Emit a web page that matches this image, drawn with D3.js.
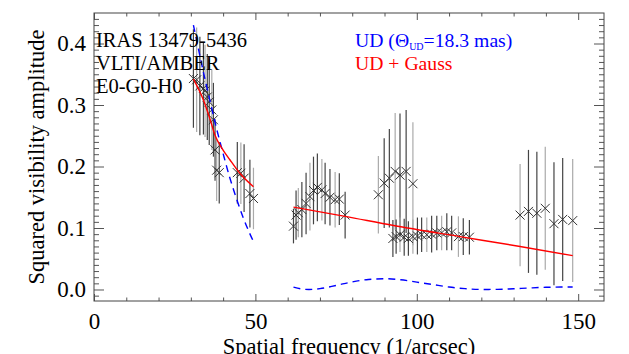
<!DOCTYPE html>
<html>
<head>
<meta charset="utf-8">
<script src="https://cdn.jsdelivr.net/npm/d3@7"></script>
<style>
  body { margin: 0; background: #fff; }
  svg, text { font-family: "Liberation Serif", "Times New Roman", serif; }
  .axis path.domain { display: none; }
  .axis line { stroke: #555; }
  .axis text { font-size: 23px; fill: #000; font-family: "Liberation Serif", serif; }
</style>
</head>
<body>
<div id="chart"></div>
<script>
"use strict";

// Measured V^2 points, grouped by baseline configuration
var freqA = [30.8, 31.8, 32.8, 33.9, 34.4, 35.1, 35.7, 36.5, 37.0, 37.5, 38.0, 38.8, 44.4, 45.5, 46.5, 48.3, 49.4];
var visA  = [0.343, 0.341, 0.331, 0.327, 0.323, 0.313, 0.305, 0.292, 0.276, 0.227, 0.194, 0.190, 0.190, 0.189, 0.181, 0.156, 0.148];
var errA  = [0.08, 0.085, 0.08, 0.075, 0.075, 0.07, 0.07, 0.065, 0.06, 0.05, 0.05, 0.05, 0.05, 0.05, 0.055, 0.055, 0.05];

var freqB = [61.8, 62.6, 63.3, 64.4, 65.7, 66.9, 68.0, 69.2, 70.6, 71.6, 73.1, 74.7, 76.0, 77.8];
var visB  = [0.103, 0.121, 0.125, 0.130, 0.140, 0.151, 0.161, 0.166, 0.162, 0.156, 0.150, 0.146, 0.147, 0.121];
var errB  = [0.028, 0.04, 0.04, 0.045, 0.05, 0.055, 0.055, 0.055, 0.05, 0.05, 0.046, 0.045, 0.042, 0.038];

var freqC = [88.1, 89.9, 91.5, 93.3, 94.8, 96.7, 98.8];
var visC  = [0.154, 0.173, 0.181, 0.192, 0.186, 0.192, 0.172];
var errC  = [0.063, 0.073, 0.08, 0.095, 0.1, 0.1, 0.1];

var freqD = [92.6, 93.6, 94.8, 96.1, 97.4, 98.8, 100.2, 101.5, 103.1, 104.6, 106.2, 107.7, 109.3, 110.8, 112.9, 114.4, 116.3];
var visD  = [0.083, 0.086, 0.089, 0.085, 0.083, 0.086, 0.087, 0.089, 0.089, 0.090, 0.092, 0.092, 0.094, 0.092, 0.086, 0.086, 0.085];
var errD  = [0.03, 0.028, 0.028, 0.03, 0.028, 0.028, 0.03, 0.028, 0.028, 0.03, 0.028, 0.028, 0.03, 0.028, 0.033, 0.03, 0.028];

var freqE = [132.0, 134.6, 137.2, 139.8, 142.5, 145.2, 148.3];
var visE  = [0.121, 0.127, 0.124, 0.132, 0.107, 0.114, 0.112];
var errE  = [0.083, 0.1, 0.1, 0.1, 0.1, 0.1, 0.1];

// Uniform disk model (18.3 mas)
var udFreq1 = [30.8, 32, 34, 36, 38, 40, 42, 44, 46, 48, 49.6];
var udVis1  = [0.430, 0.400, 0.351, 0.305, 0.261, 0.221, 0.183, 0.150, 0.120, 0.094, 0.076];
var udFreq2 = [61.8, 64, 66.6, 70, 75, 80, 85, 90, 95, 100, 105, 110, 115, 120, 125, 130, 135, 140, 145, 148.3];
var udVis2  = [0.0039, 0.0012, 0.0, 0.0014, 0.0066, 0.0124, 0.0163, 0.0175, 0.0159, 0.0120, 0.0080, 0.0040, 0.0014, 0.0001, 0.0002, 0.0012, 0.0025, 0.0036, 0.0040, 0.0041];

// UD + Gauss model
var gFreq1 = [30.8, 33.9, 36.0, 37.5, 39.6, 42.1, 45.2, 49.4];
var gVis1  = [0.342, 0.308, 0.276, 0.251, 0.230, 0.211, 0.189, 0.167];
var gFreq2 = [61.8, 77.8, 92.8, 113.4, 132.0, 148.3];
var gVis2  = [0.134, 0.119, 0.104, 0.086, 0.070, 0.055];

var xMajor = [0, 50, 100, 150];
var yMajor = [0.0, 0.1, 0.2, 0.3, 0.4];
var infoLines = ["IRAS 13479-5436", "VLTI/AMBER", "E0-G0-H0"];

function zip(xs, ys, es) {
  return xs.map(function (x, i) {
    return { x: x, y: ys[i], e: es ? es[i] : 0 };
  });
}

function drawChart(w, h) {
  var left = 94, right = 604, top = 13, bottom = 301;

  var xScale = d3.scaleLinear().domain([0, 158]).range([left, right]);
  var yScale = d3.scaleLinear().domain([-0.0187, 0.4496]).range([bottom, top]);

  var svg = d3.select("#chart").append("svg")
    .attr("width", w)
    .attr("height", h)
    .attr("font-family", "Liberation Serif, serif");

  var xMinor = d3.range(0, 158, 10).filter(function (v) { return v % 50 !== 0; });
  var yMinor = d3.range(-1, 45).map(function (v) { return v / 100; })
    .filter(function (v) { return Math.abs(v * 10 - Math.round(v * 10)) > 1e-6; });

  // minor ticks on all four sides
  svg.append("g").attr("class", "axis")
    .attr("transform", "translate(0," + bottom + ")")
    .call(d3.axisBottom(xScale).tickValues(xMinor).tickSize(-3.5).tickFormat(""));
  svg.append("g").attr("class", "axis")
    .attr("transform", "translate(0," + top + ")")
    .call(d3.axisTop(xScale).tickValues(xMinor).tickSize(-3.5).tickFormat(""));
  svg.append("g").attr("class", "axis")
    .attr("transform", "translate(" + left + ",0)")
    .call(d3.axisLeft(yScale).tickValues(yMinor).tickSize(-5).tickFormat(""));
  svg.append("g").attr("class", "axis")
    .attr("transform", "translate(" + right + ",0)")
    .call(d3.axisRight(yScale).tickValues(yMinor).tickSize(-5).tickFormat(""));

  // major ticks + labels
  svg.append("g").attr("class", "axis")
    .attr("transform", "translate(0," + bottom + ")")
    .call(d3.axisBottom(xScale).tickValues(xMajor).tickSize(-7).tickPadding(12)
      .tickFormat(d3.format("d")));
  svg.append("g").attr("class", "axis")
    .attr("transform", "translate(0," + top + ")")
    .call(d3.axisTop(xScale).tickValues(xMajor).tickSize(-7).tickFormat(""));
  svg.append("g").attr("class", "axis")
    .attr("transform", "translate(" + left + ",0)")
    .call(d3.axisLeft(yScale).tickValues(yMajor).tickSize(-10).tickPadding(8)
      .tickFormat(d3.format(".1f")));
  svg.append("g").attr("class", "axis")
    .attr("transform", "translate(" + right + ",0)")
    .call(d3.axisRight(yScale).tickValues(yMajor).tickSize(-10).tickFormat(""));

  // plot frame
  svg.append("rect")
    .attr("x", left).attr("y", top)
    .attr("width", right - left).attr("height", bottom - top)
    .attr("fill", "none").attr("stroke", "#444").attr("stroke-width", 1);

  // data with error bars
  var groups = [zip(freqA, visA, errA), zip(freqB, visB, errB), zip(freqC, visC, errC),
                zip(freqD, visD, errD), zip(freqE, visE, errE)];
  var pts = [];
  groups.forEach(function (g) { pts = pts.concat(g); });

  svg.append("g").selectAll("line")
    .data(pts)
    .enter().append("line")
    .attr("x1", function (d) { return xScale(d.x); })
    .attr("x2", function (d) { return xScale(d.x); })
    .attr("y1", function (d) { return yScale(d.y - d.e); })
    .attr("y2", function (d) { return yScale(d.y + d.e); })
    .attr("stroke", function (d, i) { return i % 3 === 1 ? "#aaaaaa" : "#444444"; })
    .attr("stroke-width", 1.2);

  svg.append("g").selectAll("path")
    .data(pts)
    .enter().append("path")
    .attr("transform", function (d) {
      return "translate(" + xScale(d.x) + "," + yScale(d.y) + ")";
    })
    .attr("d", "M-4.5,-4.5L4.5,4.5M-4.5,4.5L4.5,-4.5")
    .attr("stroke", "#333")
    .attr("stroke-width", 1)
    .attr("fill", "none");

  // model curves
  var line = d3.line()
    .x(function (d) { return xScale(d.x); })
    .y(function (d) { return yScale(d.y); })
    .curve(d3.curveMonotoneX);

  [zip(udFreq1, udVis1), zip(udFreq2, udVis2)].forEach(function (seg) {
    svg.append("path").datum(seg)
      .attr("d", line)
      .attr("fill", "none")
      .attr("stroke", "#0000ff")
      .attr("stroke-width", 1.4)
      .attr("stroke-dasharray", "7,5");
  });

  [zip(gFreq1, gVis1), zip(gFreq2, gVis2)].forEach(function (seg) {
    svg.append("path").datum(seg)
      .attr("d", line)
      .attr("fill", "none")
      .attr("stroke", "#ff0000")
      .attr("stroke-width", 1.4);
  });

  // annotations
  svg.append("g").selectAll("text")
    .data(infoLines)
    .enter().append("text")
    .attr("x", 96)
    .attr("y", function (d, i) { return 47 + i * 23; })
    .attr("font-size", "20.5px")
    .text(function (d) { return d; });

  var ud = svg.append("text")
    .attr("x", 355).attr("y", 47)
    .attr("font-size", "19.7px")
    .attr("fill", "#0000ff");
  ud.append("tspan").text("UD (\u0398");
  ud.append("tspan").attr("font-size", "10px").attr("dy", 3).text("UD");
  ud.append("tspan").attr("dy", -3).text("=18.3 mas)");

  svg.append("text")
    .attr("x", 355).attr("y", 70)
    .attr("font-size", "19.7px")
    .attr("fill", "#ff0000")
    .text("UD + Gauss");

  // axis titles
  svg.append("text")
    .attr("x", (left + right) / 2).attr("y", 354)
    .attr("text-anchor", "middle")
    .attr("font-size", "22.5px")
    .text("Spatial frequency (1/arcsec)");

  svg.append("text")
    .attr("transform", "translate(44," + (top + bottom) / 2 + ") rotate(-90)")
    .attr("text-anchor", "middle")
    .attr("font-size", "22.5px")
    .text("Squared visibility amplitude");
}

function init() {
  drawChart(629, 354);
}

window.onload = init;
</script>
</body>
</html>
